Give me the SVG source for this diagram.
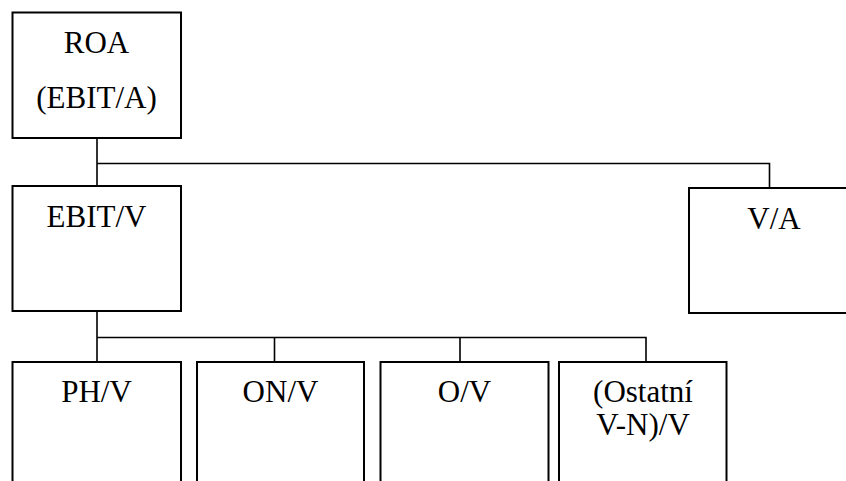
<svg xmlns="http://www.w3.org/2000/svg" width="846" height="481" viewBox="0 0 846 481">
<style>
.box{fill:#fff;stroke:#000;stroke-width:2}
.con{fill:none;stroke:#000;stroke-width:1.6}
.t{font-family:'Liberation Serif','Times New Roman',Times,serif;font-size:31px;fill:#000;text-anchor:middle}
</style>
<rect width="846" height="481" fill="#fff"/>
<g id="connectors">
<path class="con" d="M97 138 V186 M97 163.5 H769.5 V188"/>
<path class="con" d="M97 311 V362 M97 337.5 H646 V362 M274.5 337.5 V362 M460 337.5 V362"/>
</g>
<g id="roa"><rect class="box" x="12.5" y="12.5" width="168.5" height="125.5"/><text class="t" font-family="Liberation Serif, serif" x="96.5" y="53">ROA</text><text class="t" x="96.5" y="108">(EBIT/A)</text></g>
<g id="ebitv"><rect class="box" x="12.5" y="186" width="168.5" height="125"/><text class="t" x="96.5" y="227">EBIT/V</text></g>
<g id="va"><rect class="box" x="689" y="188" width="170" height="125"/><text class="t" x="774" y="229">V/A</text></g>
<g id="phv"><rect class="box" x="12.5" y="362" width="168.5" height="140"/><text class="t" x="96.5" y="402">PH/V</text></g>
<g id="onv"><rect class="box" x="197" y="362" width="167" height="140"/><text class="t" x="280.5" y="402">ON/V</text></g>
<g id="ov"><rect class="box" x="380.5" y="362" width="168" height="140"/><text class="t" x="464.5" y="402">O/V</text></g>
<g id="ostatni"><rect class="box" x="559" y="362" width="167.5" height="140"/><text class="t" x="643" y="402">(Ostatní</text><text class="t" x="643" y="435">V-N)/V</text></g>
</svg>
